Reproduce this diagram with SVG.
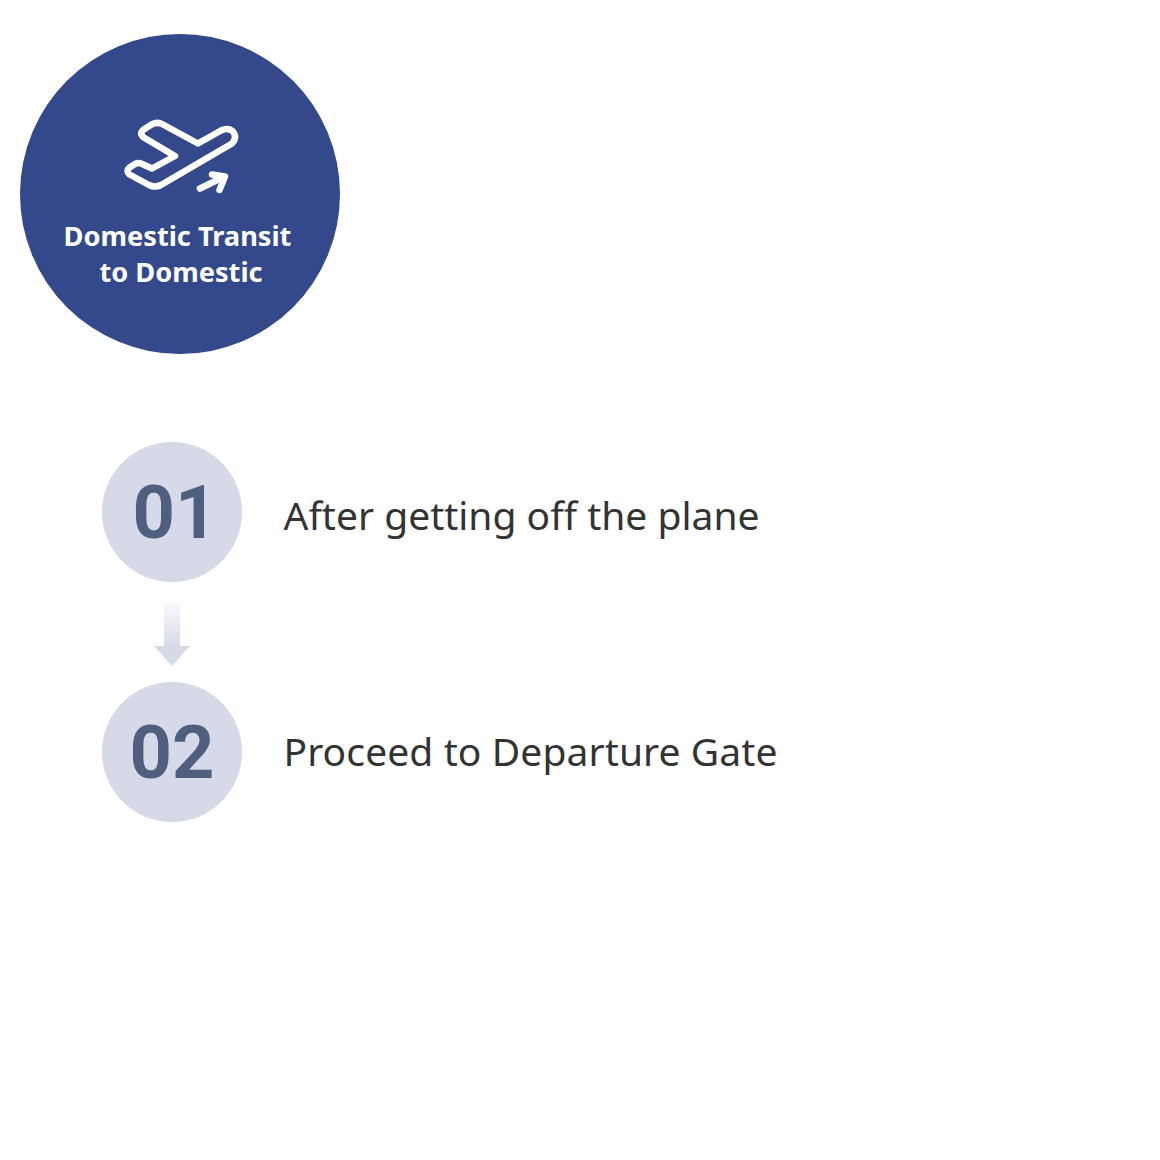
<svg xmlns="http://www.w3.org/2000/svg" width="1160" height="1160" viewBox="0 0 1160 1160">
<style>
.num{font-family:Roboto,"Liberation Sans",sans-serif;font-weight:700;font-size:74px;fill:#4f5f7f;text-anchor:middle}
.step{font-family:"Noto Sans","Open Sans",sans-serif;font-size:39px;fill:#333333}
.title{font-family:"Noto Sans","Open Sans",sans-serif;font-weight:700;font-size:27.2px;fill:#ffffff;text-anchor:middle}
.badge{fill:#d5d9e8}
.icon{fill:none;stroke:#ffffff;stroke-width:6.5;stroke-linecap:round;stroke-linejoin:round}
</style>
<defs>
<linearGradient id="fade" x1="0" y1="0" x2="0" y2="1">
<stop offset="0" stop-color="#d5d9e8" stop-opacity="0.1"/>
<stop offset="0.7" stop-color="#d5d9e8"/>
</linearGradient>
</defs>
<rect width="1160" height="1160" fill="#ffffff"/>
<g id="header">
<circle cx="180" cy="194" r="160" fill="#34488c"/>
<path class="icon" d="M143 130 L151.500 124.500 Q157.500 121.500 162 124 L198 143.500 L221 130.500 Q228 127 233 131.500 Q237.500 137.500 232 143.500 L161 185 Q155 188 149 185 L129.500 174.500 Q125.500 171 129.500 167.500 L135 164 Q138 162.500 141 163.500 L152 168.500 L175 156 L143 137 Q139.500 133.500 143 130 Z"/>
<path class="icon" d="M200 188.500 L224.500 176.500 M212 174.500 L225 176.500 L219.500 190"/>
<text class="title" x="177.500" y="246">Domestic Transit</text>
<text class="title" x="181" y="282">to Domestic</text>
</g>
<g id="step-01">
<circle class="badge" cx="172" cy="512" r="70"/>
<text class="num" x="175" y="538">01</text>
<text class="step" x="283.500" y="530">After getting off the plane</text>
</g>
<g id="step-02">
<circle class="badge" cx="172" cy="752" r="70"/>
<text class="num" x="172" y="778">02</text>
<text class="step" x="283.500" y="766" letter-spacing="0.1">Proceed to Departure Gate</text>
</g>
<g id="connectors">
<path fill="url(#fade)" d="M164 602 H180 V646 H190 L172 666 L154 646 H164 Z"/>
</g>
</svg>
